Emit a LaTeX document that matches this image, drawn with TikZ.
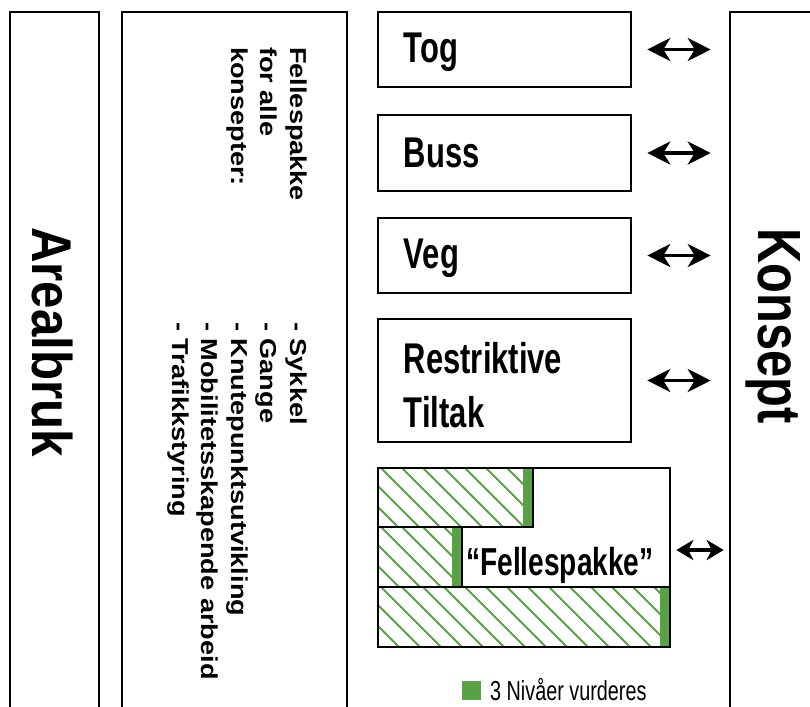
\documentclass[tikz,border=0pt]{standalone}
\usepackage{fontspec}
\setmainfont{Liberation Sans}
\newfontfamily\condfont{Liberation Sans}[FakeStretch=0.72]
\newfontfamily\arealfont{Liberation Sans}[FakeStretch=0.88]
\newfontfamily\konseptfont{Liberation Sans}[FakeStretch=0.80]
\newfontfamily\listfont{Liberation Sans}[FakeStretch=1.18]
\usetikzlibrary{arrows.meta,positioning}
\definecolor{hatchgreen}{RGB}{88,162,68}

\tikzset{
  frame/.style={draw=black, line width=2.6pt, inner sep=0pt},
  boxlabel/.style={font=\condfont\bfseries\fontsize{43}{54}\selectfont, inner sep=0pt, align=left},
  listtext/.style={font=\listfont\bfseries\fontsize{23}{29.5}\selectfont, inner sep=0pt, align=left, rotate=-90},
  hatch/.style={draw=hatchgreen, line width=1.8pt},
  biarrow/.style={line width=3.5pt, arrows={Stealth[length=23pt,width=23pt,inset=7pt]-Stealth[length=23pt,width=23pt,inset=7pt]}},
  smallarrow/.style={line width=3.2pt, arrows={Stealth[length=17pt,width=20pt,inset=5pt]-Stealth[length=17pt,width=20pt,inset=5pt]}}
}

\begin{document}
\begin{tikzpicture}[x=1pt,y=-1pt]
\useasboundingbox (0,0) rectangle (810,706);
\clip (0,0) rectangle (810,706);

% Outer columns
\node[frame, minimum width=89pt, minimum height=718pt] (areal) at (54.5,371) {};
\node[frame, minimum width=225pt, minimum height=718pt] (felles) at (234.5,371) {};
\node[frame, minimum width=120pt, minimum height=718pt] (konsept) at (790,371) {};

\node[font=\arealfont\bfseries\fontsize{56}{60}\selectfont, inner sep=0pt, rotate=-90, anchor=base west] (arealtxt) at (32,227) {Arealbruk};
\node[font=\konseptfont\bfseries\fontsize{61}{64}\selectfont, inner sep=0pt, rotate=-90, anchor=base west] (konsepttxt) at (758,228) {Konsept};

% Common package text
\node[listtext, anchor=north west] (head) at (307,47) {Fellespakke\\for alle\\konsepter:};
\node[listtext, anchor=north west] (list) at (307,322) {- Sykkel\\- Gange\\- Knutepunktsutvikling\\- Mobilitetsskapende arbeid\\- Trafikkstyring};

% Concept boxes
\node[frame, minimum width=253pt, minimum height=75pt] (tog) at (504.5,49.5) {};
\node[frame, minimum width=253pt, minimum height=76pt] (buss) at (504.5,153) {};
\node[frame, minimum width=253pt, minimum height=75pt] (veg) at (504.5,255.5) {};
\node[frame, minimum width=253pt, minimum height=123pt] (restr) at (504.5,380.5) {};

\node[boxlabel, right=27pt of tog.west, yshift=-3pt] (togtxt) {Tog};
\node[boxlabel, right=27pt of buss.west] (busstxt) {Buss};
\node[boxlabel, right=27pt of veg.west, yshift=-3pt] (vegtxt) {Veg};
\node[boxlabel, right=27pt of restr.west, yshift=-5pt] (restrtxt) {Restriktive\\Tiltak};

% Fellespakke levels
\foreach \ytop/\ybot/\xend in {468/527/533, 527/587/462, 587/647/670} {
  \begin{scope}
    \clip (378,\ytop) rectangle (\xend,\ybot);
    \foreach \s in {318,339,...,670}
      \draw[hatch] (\s,\ytop) -- ++(62,62);
  \end{scope}
  \fill[hatchgreen] (\xend-10,\ytop) rectangle (\xend,\ybot);
  \draw[frame] (378,\ytop) rectangle (\xend,\ybot);
}
\node[frame, minimum width=292pt, minimum height=179pt] (fpk) at (524,557.5) {};
\node[font=\condfont\bfseries\fontsize{39}{42}\selectfont, inner sep=0pt, anchor=base west] (fpktxt) at (466,575) {“Fellespakke”};

% Arrows to concept
\draw[biarrow, shorten <=15pt, shorten >=18pt] (tog.east) -- (tog.east -| konsept.west);
\draw[biarrow, shorten <=15pt, shorten >=18pt] (buss.east) -- (buss.east -| konsept.west);
\draw[biarrow, shorten <=15pt, shorten >=18pt] (veg.east) -- (veg.east -| konsept.west);
\draw[biarrow, shorten <=15pt, shorten >=18pt] (restr.east) -- (restr.east -| konsept.west);
\coordinate (fpkout) at ([yshift=7.5pt]fpk.east);
\draw[smallarrow, shorten <=5pt, shorten >=5pt] (fpkout) -- (fpkout -| konsept.west);

% Legend
\fill[hatchgreen] (462,681) rectangle (481,700);
\node[font=\condfont\fontsize{27.5}{30}\selectfont, inner sep=0pt, anchor=base west] (legtxt) at (490,700) {3 Nivåer vurderes};
\end{tikzpicture}
\end{document}
